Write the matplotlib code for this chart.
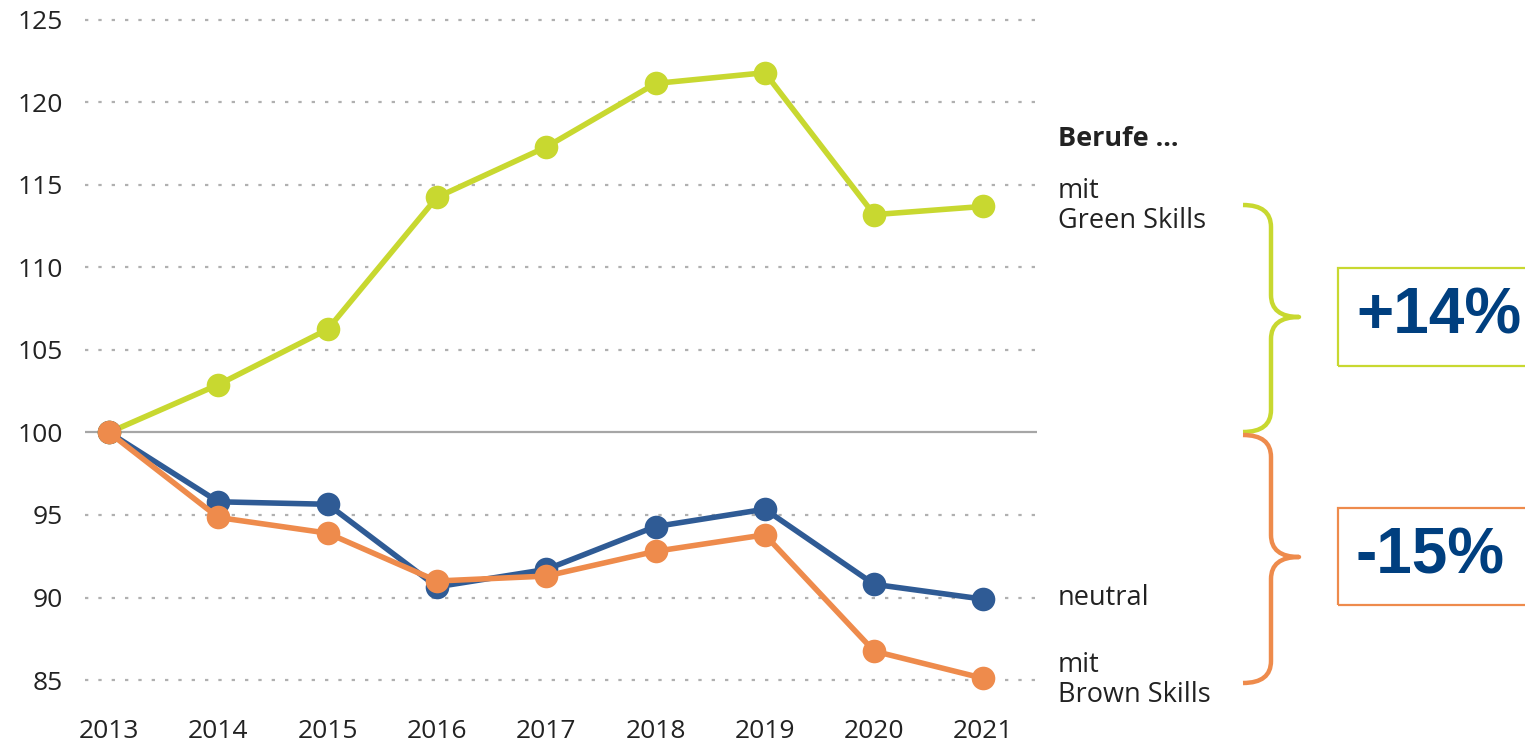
import matplotlib
matplotlib.use("Agg")
import matplotlib.pyplot as plt
from matplotlib.path import Path
from matplotlib.patches import PathPatch, Rectangle

years = [2013, 2014, 2015, 2016, 2017, 2018, 2019, 2020, 2021]
green = [100, 102.9, 106.25, 114.25, 117.3, 121.15, 121.8, 113.2, 113.7]
neutral = [100, 95.8, 95.65, 90.65, 91.7, 94.3, 95.35, 90.8, 89.9]
brown = [100, 94.85, 93.9, 91.0, 91.3, 92.8, 93.8, 86.75, 85.1]
yticks = [85, 90, 95, 100, 105, 110, 115, 120, 125]

C_GREEN = '#c8d830'
C_BLUE = '#2f5b95'
C_ORANGE = '#ee8b4c'
C_TEXT = '#222222'
C_PCT = '#003f7f'

W, H = 1525, 747
fig = plt.figure(figsize=(W / 100, H / 100), dpi=100)
ax = fig.add_axes([85 / W, 1 - 700 / H, (1037 - 85) / W, (700 - 10) / H])

for v in yticks:
    if v == 100:
        ax.axhline(v, color='#a6a6a6', lw=1.6, zorder=1)
    else:
        ax.axhline(v, color='#b0b0b0', lw=1.6, ls=(0, (1.5, 4.5)), zorder=1)

for vals, c, z in [(green, C_GREEN, 3), (neutral, C_BLUE, 4), (brown, C_ORANGE, 5)]:
    ax.plot(years, vals, color=c, lw=4.0, marker='o', markersize=17,
            markeredgewidth=0, zorder=z, solid_capstyle='round')

ax.set_xlim(2012.78, 2021.49)
ax.set_ylim(83.79, 125.6)
ax.set_yticks(yticks)
ax.set_xticks(years)
ax.tick_params(length=0, labelsize=19, labelcolor=C_TEXT)
ax.tick_params(axis='y', pad=16)
ax.tick_params(axis='x', pad=14)
for lab in ax.get_xticklabels() + ax.get_yticklabels():
    lab.set_family('Open Sans')
for s in ax.spines.values():
    s.set_visible(False)
ax.set_facecolor('none')


def fx(x):
    return x / W


def fy(y):
    return 1 - y / H


tx = 1058
FS = 19.5
fig.text(fx(tx), fy(139), 'Berufe ...', fontsize=FS, fontweight='bold',
         family='Open Sans', color=C_TEXT, va='center', ha='left')
fig.text(fx(tx), fy(206), 'mit\nGreen Skills', fontsize=FS, family='Open Sans',
         color=C_TEXT, va='center', ha='left', linespacing=1.1)
fig.text(fx(tx), fy(598), 'neutral', fontsize=FS, family='Open Sans',
         color=C_TEXT, va='center', ha='left')
fig.text(fx(tx), fy(680), 'mit\nBrown Skills', fontsize=FS, family='Open Sans',
         color=C_TEXT, va='center', ha='left', linespacing=1.05)


def brace(y0, y1, ym, color):
    xs, xv, xt, r = 1243, 1271, 1299, 22
    pts = [(xs, y0), (xv, y0), (xv, y0 + r),
           (xv, ym - r), (xv, ym), (xt, ym),
           (xv, ym), (xv, ym + r),
           (xv, y1 - r), (xv, y1), (xs, y1)]
    codes = [Path.MOVETO, Path.CURVE3, Path.CURVE3,
             Path.LINETO, Path.CURVE3, Path.CURVE3,
             Path.CURVE3, Path.CURVE3,
             Path.LINETO, Path.CURVE3, Path.CURVE3]
    verts = [(fx(x), fy(y)) for x, y in pts]
    fig.add_artist(PathPatch(Path(verts, codes), transform=fig.transFigure,
                             facecolor='none', edgecolor=color, lw=3.2,
                             capstyle='butt', joinstyle='round'))


brace(205, 432, 317, C_GREEN)
brace(435, 683, 557, C_ORANGE)

for y0, y1, c, txt in [(268, 366, C_GREEN, '+14%'), (508, 605, C_ORANGE, '-15%')]:
    fig.add_artist(Rectangle((fx(1338), fy(y1)), fx(1600) - fx(1338), fy(y0) - fy(y1),
                             transform=fig.transFigure, facecolor='none',
                             edgecolor=c, lw=1.6))
    fig.text(fx(1356), fy((y0 + y1) / 2), txt, fontsize=46, fontweight='bold',
             family='Liberation Sans', color=C_PCT, va='center', ha='left')

fig.savefig('out.png', dpi=100)
